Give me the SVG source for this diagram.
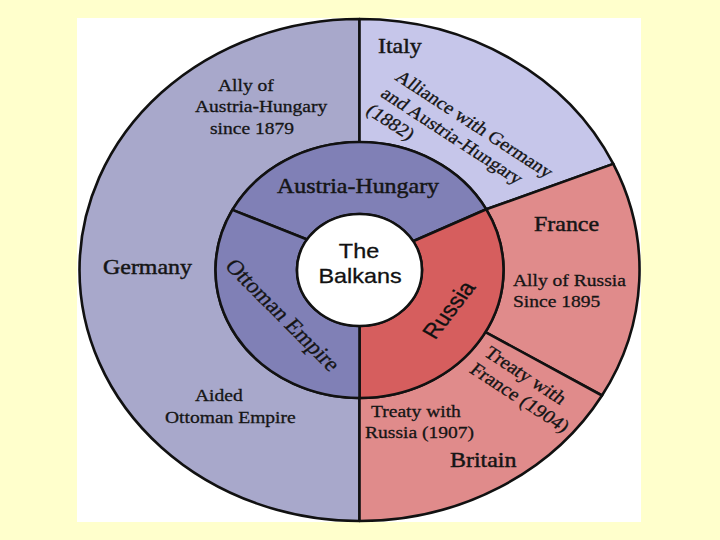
<svg xmlns="http://www.w3.org/2000/svg" width="720" height="540" viewBox="0 0 720 540">
<style>
.seg{stroke:#111;stroke-width:2.6;stroke-linejoin:round}
.s{font-family:"Liberation Serif","Times New Roman",serif;fill:#151515;stroke:#151515;stroke-width:0.3}
.sm{font-size:17px}
.rot{font-size:17.7px}
.lg{font-size:21px;stroke-width:0.45}
.sans{font-family:"Liberation Sans",Arial,sans-serif;fill:#111;stroke:#111;stroke-width:0.3}
</style>
<rect x="0" y="0" width="720" height="540" fill="#FFFFCC"/>
<rect x="77" y="18" width="564" height="504" fill="#FFFFFF"/>

<g id="germany">
<path class="seg" fill="#A8A8CB" d="M359.5,19 A280,251 0 0 0 359.5,521 L359.5,398 A144,128 0 0 1 359.5,142 Z"/>
<text class="s sm" transform="translate(218,91) scale(1.15,1)">Ally of</text>
<text class="s sm" transform="translate(195,112) scale(1.15,1)">Austria-Hungary</text>
<text class="s sm" transform="translate(210,134) scale(1.15,1)">since 1879</text>
<text class="s lg" transform="translate(103,274) scale(1.14,1)">Germany</text>
<text class="s sm" transform="translate(195,401) scale(1.15,1)">Aided</text>
<text class="s sm" transform="translate(165,423) scale(1.15,1)">Ottoman Empire</text>
</g>

<g id="italy">
<path class="seg" fill="#C6C6EA" d="M359.5,19 A280,251 0 0 1 613.3,163.9 L486.3,209.3 A144,128 0 0 0 359.5,142 Z"/>
<text class="s lg" transform="translate(378,53) scale(1.14,1)">Italy</text>
<g transform="translate(394,79) scale(1.15,1) rotate(36.8)">
<text class="s rot" x="0" y="0">Alliance with Germany</text>
<text class="s rot" x="0" y="21">and Austria-Hungary</text>
<text class="s rot" x="0" y="42">(1882)</text>
</g>
</g>

<g id="france">
<path class="seg" fill="#E08B8B" d="M613.3,163.9 A280,251 0 0 1 602,395.5 L485.4,332.1 A144,128 0 0 0 486.3,209.3 Z"/>
<text class="s lg" transform="translate(534,231) scale(1.14,1)">France</text>
<text class="s sm" transform="translate(513,286) scale(1.15,1)">Ally of Russia</text>
<text class="s sm" transform="translate(513,307) scale(1.15,1)">Since 1895</text>
</g>

<g id="britain">
<path class="seg" fill="#E08B8B" d="M602,395.5 A280,251 0 0 1 359.5,521 L359.5,398 A144,128 0 0 0 485.4,332.1 Z"/>
<g transform="translate(483,355) scale(1.15,1) rotate(36.8)">
<text class="s" font-size="18.2" x="0" y="0">Treaty with</text>
<text class="s" font-size="18.2" x="0" y="21">France (1904)</text>
</g>
<text class="s sm" transform="translate(371,417) scale(1.15,1)">Treaty with</text>
<text class="s sm" transform="translate(365,438) scale(1.15,1)">Russia (1907)</text>
<text class="s lg" transform="translate(450,467) scale(1.14,1)">Britain</text>
</g>

<g id="austria-hungary">
<path class="seg" fill="#8080B6" d="M232.4,209.9 A144,128 0 0 1 486.3,209.3 L413.1,241.2 A62.5,56 0 0 0 307.1,239.5 Z"/>
<text class="s lg" transform="translate(277,193) scale(1.14,1)">Austria-Hungary</text>
</g>

<g id="russia">
<path class="seg" fill="#D65E5E" d="M486.3,209.3 A144,128 0 0 1 359.5,398 L359.5,326 A62.5,56 0 0 0 413.1,241.2 Z"/>
<text class="sans" font-size="21" text-anchor="middle" transform="translate(449,310) scale(1.15,1) rotate(-56)" y="7">Russia</text>
</g>

<g id="ottoman-empire">
<path class="seg" fill="#8080B6" d="M359.5,398 A144,128 0 0 1 232.4,209.9 L307.1,239.5 A62.5,56 0 0 0 359.5,326 Z"/>
<text class="s" font-size="21" text-anchor="middle" transform="translate(283,315) scale(1.15,1) rotate(49)" y="7">Ottoman Empire</text>
</g>

<g id="balkans">
<ellipse class="seg" fill="#FFFFFF" cx="359.5" cy="270" rx="62.5" ry="56"/>
<text class="sans" font-size="20" text-anchor="middle" transform="translate(359,258) scale(1.17,1)">The</text>
<text class="sans" font-size="20" text-anchor="middle" transform="translate(360,283) scale(1.17,1)">Balkans</text>
</g>

<g id="connectors"></g>
</svg>
